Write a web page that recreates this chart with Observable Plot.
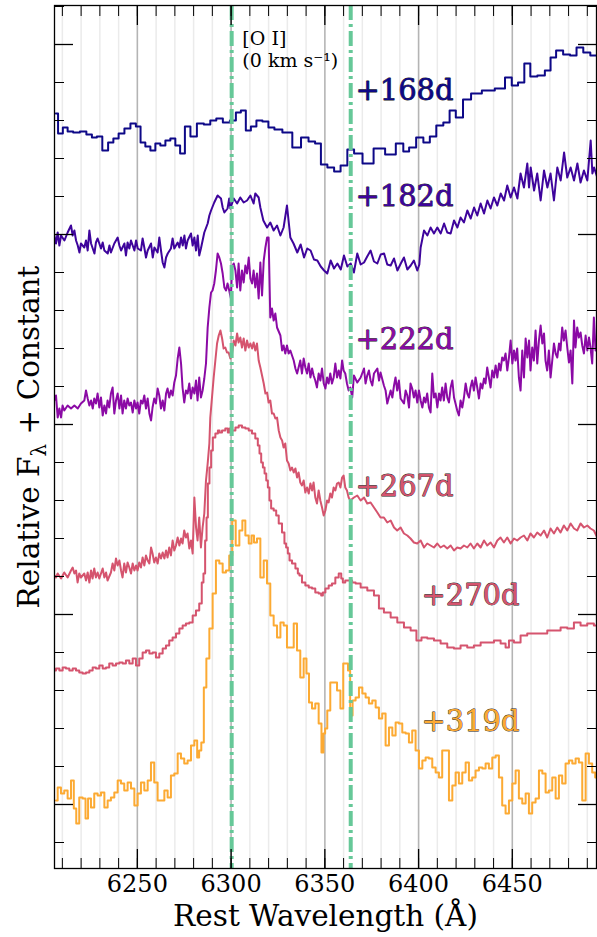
<!DOCTYPE html>
<html><head><meta charset="utf-8">
<script src="https://cdn.jsdelivr.net/npm/d3@7"></script>
<script src="https://cdn.jsdelivr.net/npm/@observablehq/plot@0.6"></script>
<style>
html,body{margin:0;padding:0;background:#fff;}
#chart svg{display:block;}
</style></head><body><div id="chart"></div>
<script>
// ---- tick values ----
const majorX = [6250, 6300, 6350, 6400, 6450];
const minorX = [6210,6220,6230,6240,6250,6260,6270,6280,6290,6300,6310,6320,6330,6340,6350,6360,6370,6380,6390,6400,6410,6420,6430,6440,6450,6460,6470,6480,6490];
const majorY = [0, 190, 380, 570, 760];
const minorY = [-38,0,38,76,114,152,190,228,266,304,342,380,418,456,494,532,570,608,646,684,722,760,798];
const oiLines = [6300.3, 6363.8];

// ---- spectra: [rest wavelength (A), relative flux + constant] ----
const spec168 = [[6206.5,691],[6208.9,671],[6211.6,677],[6214.0,673],[6217.5,672],[6221.2,673],[6224.4,670],[6227.1,667],[6229.7,668],[6232.9,654],[6235.9,662],[6238.5,666],[6241.5,671],[6244.7,676],[6247.9,681],[6250.5,678],[6252.9,662],[6255.6,658],[6258.3,654],[6260.9,661],[6263.6,659],[6266.3,664],[6268.9,666],[6271.6,659],[6274.0,651],[6276.7,678],[6279.9,668],[6283.6,681],[6287.3,680],[6290.5,684],[6293.7,686],[6297.5,682],[6301.2,684],[6303.9,692],[6306.5,694],[6309.2,674],[6311.9,678],[6315.1,684],[6318.3,683],[6321.5,677],[6324.7,675],[6330.0,672],[6335.3,657],[6339.3,667],[6343.3,663],[6346.3,661],[6349.5,640],[6353.2,637],[6356.7,633],[6360.1,639],[6363.9,655],[6367.3,651],[6372.9,641],[6379.1,656],[6385.2,650],[6390.5,661],[6393.2,653],[6396.7,657],[6400.7,667],[6404.4,662],[6407.6,668],[6411.3,679],[6415.1,682],[6418.0,694],[6421.7,687],[6425.7,705],[6430.3,711],[6437.2,714],[6444.1,716],[6448.1,727],[6451.3,719],[6454.8,722],[6458.0,741],[6461.2,728],[6465.5,729],[6469.2,734],[6471.6,747],[6475.1,754],[6479.1,750],[6482.5,749],[6486.0,757],[6489.7,752],[6493.5,749],[6495.5,749]];

const spec182 = [[6205.7,569],[6206.6,561],[6207.5,572],[6208.4,559],[6209.3,569],[6211.1,564],[6212.8,572],[6214.6,579],[6215.5,569],[6216.4,574],[6217.3,564],[6218.2,559],[6219.1,552],[6219.9,561],[6221.7,557],[6222.6,564],[6223.5,554],[6224.4,574],[6225.3,561],[6227.1,551],[6227.9,562],[6228.8,566],[6230.6,556],[6231.5,562],[6232.4,554],[6234.2,551],[6235.1,559],[6235.9,552],[6237.7,561],[6239.5,567],[6240.4,559],[6241.3,554],[6243.1,561],[6243.9,549],[6244.8,562],[6245.7,556],[6246.6,564],[6248.4,554],[6249.3,564],[6250.2,556],[6251.9,554],[6252.8,566],[6253.7,557],[6254.6,547],[6255.5,554],[6257.3,561],[6258.2,547],[6259.1,557],[6260.8,552],[6261.7,567],[6262.6,554],[6263.5,542],[6264.4,537],[6265.3,547],[6266.2,551],[6267.9,556],[6268.8,566],[6269.7,556],[6271.5,562],[6272.4,557],[6273.3,567],[6274.2,559],[6275.1,569],[6275.9,556],[6276.8,564],[6278.6,571],[6279.5,559],[6280.4,567],[6281.3,554],[6282.2,569],[6283.0,549],[6283.9,556],[6284.8,564],[6285.7,572],[6287.5,581],[6288.4,589],[6289.3,594],[6291.0,602],[6292.8,609],[6294.6,606],[6295.5,597],[6296.4,592],[6298.1,596],[6299.0,606],[6299.6,596],[6301.4,606],[6303.2,601],[6304.9,607],[6306.7,602],[6308.5,604],[6310.3,609],[6312.0,601],[6312.9,611],[6314.7,607],[6315.6,597],[6317.2,584],[6319.2,577],[6320.9,582],[6322.7,574],[6324.5,579],[6326.3,569],[6328.0,577],[6329.8,599],[6331.6,567],[6333.3,561],[6335.3,552],[6337.1,560],[6338.9,547],[6340.6,556],[6342.4,554],[6344.2,545],[6346.0,544],[6347.8,538],[6349.6,534],[6351.3,531],[6353.1,544],[6354.9,536],[6356.7,541],[6358.5,535],[6360.2,549],[6362.0,538],[6363.8,541],[6365.5,532],[6367.3,551],[6369.1,540],[6370.9,542],[6372.6,548],[6374.4,554],[6376.2,543],[6378.0,541],[6379.8,550],[6381.6,551],[6383.3,540],[6385.1,539],[6386.9,546],[6388.7,534],[6390.5,541],[6392.2,547],[6394.0,535],[6395.8,539],[6397.5,544],[6399.3,534],[6400.4,540],[6401.1,557],[6402.9,574],[6404.7,569],[6406.4,577],[6408.2,571],[6410.0,577],[6411.8,571],[6413.6,581],[6415.3,572],[6417.1,571],[6418.9,584],[6420.7,577],[6422.4,587],[6424.2,582],[6426.0,594],[6427.8,586],[6429.6,597],[6431.3,589],[6433.1,601],[6434.9,591],[6436.7,604],[6438.4,596],[6440.2,607],[6442.0,599],[6443.8,611],[6445.6,604],[6447.3,619],[6449.1,607],[6450.9,617],[6452.7,606],[6454.4,631],[6456.2,617],[6458.0,641],[6458.9,617],[6459.8,637],[6461.6,614],[6463.3,631],[6465.1,604],[6466.9,634],[6468.7,617],[6470.4,631],[6472.2,604],[6474.0,637],[6475.8,624],[6477.6,652],[6479.3,627],[6481.1,637],[6482.9,624],[6484.7,641],[6486.4,622],[6488.2,634],[6490.0,624],[6491.8,664],[6492.7,631],[6493.6,637],[6495.3,627]];

const spec222 = [[6205.7,404],[6206.6,409],[6207.5,387],[6208.4,396],[6209.3,387],[6210.1,399],[6211.0,394],[6212.8,399],[6214.6,396],[6216.4,399],[6218.2,396],[6219.9,401],[6221.7,404],[6222.6,414],[6223.5,406],[6224.4,399],[6225.3,404],[6226.2,396],[6227.0,406],[6227.9,401],[6228.8,411],[6229.7,397],[6230.6,407],[6231.5,389],[6232.4,399],[6233.3,391],[6234.1,404],[6235.0,397],[6235.9,411],[6236.8,417],[6237.7,391],[6238.6,404],[6239.5,411],[6240.4,396],[6241.3,409],[6242.1,391],[6243.0,404],[6243.9,396],[6244.8,406],[6245.7,399],[6246.6,402],[6247.5,392],[6248.4,404],[6249.3,396],[6250.1,402],[6251.0,391],[6251.9,404],[6252.8,401],[6253.7,409],[6254.6,396],[6255.5,406],[6256.4,391],[6257.3,384],[6258.1,397],[6259.0,406],[6259.9,401],[6260.8,416],[6261.7,409],[6262.6,396],[6263.5,404],[6264.4,394],[6265.3,411],[6266.1,416],[6267.0,407],[6267.9,414],[6268.8,409],[6269.7,422],[6270.6,429],[6271.5,446],[6272.4,457],[6273.3,441],[6274.1,417],[6275.0,402],[6275.9,414],[6276.8,411],[6277.7,421],[6278.6,406],[6279.5,417],[6280.4,411],[6281.3,424],[6282.1,404],[6283.0,427],[6283.9,407],[6284.8,414],[6285.7,426],[6286.6,441],[6287.5,477],[6288.4,497],[6289.3,512],[6290.1,514],[6291.0,521],[6291.9,534],[6292.8,551],[6293.7,547],[6294.6,541],[6295.5,531],[6296.4,517],[6297.3,514],[6298.1,521],[6299.0,514],[6299.9,506],[6300.5,537],[6301.4,541],[6302.3,534],[6303.2,517],[6304.0,541],[6304.9,514],[6305.8,534],[6306.7,522],[6307.6,539],[6308.5,531],[6309.4,547],[6310.3,526],[6311.2,521],[6312.0,534],[6312.9,517],[6313.8,531],[6314.7,506],[6315.6,542],[6316.5,509],[6317.4,544],[6318.3,557],[6319.2,567],[6320.0,567],[6320.9,487],[6321.8,496],[6322.7,484],[6323.6,491],[6324.5,477],[6326.3,469],[6327.2,454],[6328.0,459],[6328.9,451],[6329.8,459],[6330.7,451],[6331.6,454],[6333.4,444],[6334.3,436],[6335.2,431],[6336.0,437],[6336.9,444],[6337.8,431],[6338.7,446],[6339.6,437],[6340.5,431],[6341.4,441],[6342.3,427],[6343.2,436],[6344.0,429],[6344.9,424],[6345.8,417],[6346.7,431],[6347.6,424],[6348.5,436],[6349.4,421],[6350.3,416],[6351.2,427],[6352.0,421],[6352.9,431],[6353.8,421],[6354.7,427],[6355.6,441],[6356.5,427],[6357.4,434],[6358.3,426],[6359.2,444],[6360.0,434],[6360.9,431],[6361.8,421],[6362.7,414],[6363.6,417],[6364.6,407],[6365.5,429],[6367.3,422],[6369.1,427],[6370.9,436],[6371.7,421],[6372.6,429],[6373.5,434],[6374.4,424],[6375.3,419],[6376.2,431],[6378.0,436],[6378.9,424],[6379.7,432],[6381.5,419],[6382.4,414],[6383.3,401],[6385.1,414],[6386.0,407],[6386.9,419],[6387.7,427],[6388.6,414],[6389.5,424],[6390.4,406],[6392.2,401],[6393.1,414],[6394.0,409],[6394.9,397],[6395.7,421],[6396.6,416],[6397.5,407],[6398.4,414],[6399.3,402],[6400.2,414],[6401.1,404],[6402.0,397],[6402.9,407],[6403.7,402],[6404.6,411],[6405.5,397],[6406.4,392],[6407.3,431],[6408.2,407],[6409.1,411],[6410.0,397],[6410.9,411],[6411.7,404],[6412.6,417],[6413.5,404],[6414.4,421],[6415.3,407],[6416.2,402],[6417.1,417],[6418.0,424],[6418.9,407],[6419.7,401],[6420.6,394],[6421.5,389],[6422.4,404],[6423.3,397],[6424.2,407],[6425.1,421],[6426.0,411],[6426.9,407],[6427.7,417],[6428.6,424],[6429.5,414],[6430.4,427],[6431.3,417],[6432.2,406],[6433.1,421],[6434.0,416],[6434.9,426],[6435.7,421],[6436.6,437],[6437.5,427],[6438.4,417],[6439.3,434],[6440.2,427],[6441.1,439],[6442.0,427],[6442.9,441],[6443.7,434],[6444.6,447],[6445.5,444],[6446.4,451],[6447.3,434],[6448.2,447],[6449.1,464],[6450.0,441],[6450.9,454],[6451.7,444],[6452.6,456],[6453.5,427],[6454.4,414],[6455.3,454],[6456.2,427],[6457.1,466],[6458.0,447],[6458.9,464],[6459.7,434],[6460.6,457],[6461.5,444],[6462.4,474],[6463.3,441],[6464.2,464],[6465.1,479],[6466.0,461],[6466.9,471],[6467.7,444],[6468.6,434],[6469.5,454],[6470.4,427],[6471.3,444],[6472.2,461],[6473.1,451],[6474.0,447],[6474.9,461],[6475.7,454],[6476.6,477],[6477.5,464],[6478.4,474],[6479.3,457],[6480.2,442],[6481.1,454],[6482.0,421],[6482.9,484],[6483.7,457],[6484.6,477],[6485.5,467],[6486.4,472],[6487.3,459],[6488.2,451],[6489.1,469],[6490.0,454],[6490.9,467],[6491.7,457],[6492.6,441],[6493.5,487],[6494.4,454],[6495.3,461]];

const spec267 = [[6205.7,229],[6206.6,227],[6207.5,231],[6209.3,226],[6211.0,232],[6212.8,227],[6214.6,234],[6215.5,237],[6216.4,231],[6217.3,234],[6218.1,222],[6219.0,231],[6219.9,227],[6221.7,231],[6222.6,224],[6223.5,232],[6224.4,222],[6225.3,234],[6226.1,226],[6227.0,236],[6227.9,227],[6228.8,232],[6229.7,226],[6230.6,231],[6231.5,236],[6232.4,227],[6233.3,232],[6234.1,224],[6235.9,232],[6236.8,241],[6237.7,234],[6238.6,246],[6239.5,239],[6240.4,244],[6241.3,234],[6242.1,227],[6243.0,241],[6243.9,232],[6244.8,242],[6245.7,237],[6246.6,231],[6247.5,241],[6248.4,234],[6249.3,239],[6250.1,234],[6251.0,242],[6251.9,237],[6252.8,247],[6253.7,239],[6254.6,249],[6255.5,244],[6256.4,241],[6257.3,257],[6258.1,251],[6259.0,242],[6259.9,247],[6260.8,241],[6261.7,251],[6262.6,246],[6263.5,252],[6264.4,246],[6265.3,254],[6266.1,247],[6267.0,257],[6267.9,249],[6268.8,264],[6269.7,254],[6270.6,259],[6271.5,267],[6272.4,259],[6273.3,266],[6274.1,261],[6275.0,274],[6275.9,267],[6276.8,271],[6277.7,256],[6278.6,264],[6279.5,251],[6280.4,307],[6281.3,277],[6282.1,264],[6283.0,287],[6283.9,257],[6284.8,277],[6285.7,291],[6286.6,324],[6287.5,341],[6288.4,361],[6288.9,387],[6289.8,407],[6290.7,427],[6291.6,444],[6292.5,461],[6293.4,469],[6294.3,474],[6295.2,466],[6296.0,456],[6296.9,457],[6297.8,452],[6298.7,452],[6299.6,446],[6300.5,451],[6301.4,464],[6302.3,459],[6303.2,471],[6304.0,462],[6304.9,467],[6305.8,457],[6306.7,466],[6307.6,454],[6308.5,464],[6309.4,457],[6310.3,461],[6311.2,456],[6312.0,462],[6312.9,454],[6313.8,461],[6314.7,444],[6315.6,437],[6316.5,429],[6317.4,421],[6318.3,411],[6319.2,412],[6320.0,402],[6320.9,404],[6321.8,391],[6322.7,391],[6323.6,386],[6324.5,387],[6325.4,374],[6326.3,367],[6327.2,364],[6328.0,357],[6328.9,361],[6329.8,344],[6330.7,341],[6331.6,334],[6332.5,337],[6333.4,332],[6334.3,336],[6335.2,327],[6336.0,332],[6336.9,322],[6337.8,319],[6338.7,324],[6339.6,312],[6340.5,317],[6341.4,311],[6342.3,321],[6343.2,314],[6344.0,322],[6344.9,307],[6345.8,301],[6346.7,314],[6347.6,304],[6348.5,297],[6349.4,289],[6350.3,294],[6351.2,304],[6352.0,302],[6352.9,311],[6353.8,307],[6354.7,317],[6355.6,314],[6356.5,321],[6357.4,322],[6358.3,317],[6359.2,327],[6360.0,329],[6360.9,317],[6361.8,314],[6362.7,307],[6363.6,304],[6365.5,307],[6367.3,309],[6369.1,304],[6370.9,307],[6372.6,301],[6374.4,302],[6376.2,297],[6378.0,292],[6379.7,287],[6381.5,287],[6383.3,282],[6385.1,284],[6386.9,277],[6388.6,274],[6390.4,277],[6392.2,271],[6394.0,269],[6395.7,266],[6397.5,262],[6399.3,261],[6401.1,264],[6402.9,257],[6404.6,261],[6406.4,259],[6408.2,257],[6410.0,261],[6411.7,257],[6413.5,259],[6415.3,256],[6417.1,259],[6418.9,254],[6420.6,257],[6422.4,256],[6424.2,259],[6426.0,257],[6427.7,261],[6429.5,256],[6431.3,261],[6433.1,257],[6434.9,264],[6436.6,259],[6438.4,262],[6440.2,257],[6442.0,264],[6443.7,267],[6445.5,262],[6447.3,267],[6449.1,261],[6450.9,266],[6452.6,264],[6454.4,267],[6456.2,269],[6458.0,264],[6459.7,271],[6461.5,267],[6463.3,272],[6465.1,269],[6466.9,274],[6468.6,267],[6470.4,276],[6472.2,271],[6474.0,277],[6475.7,272],[6477.5,279],[6479.3,274],[6481.1,281],[6482.9,276],[6484.6,274],[6486.4,281],[6488.2,277],[6490.0,279],[6491.7,276],[6493.5,274],[6495.3,267]];

const spec270 = [[6205.7,134],[6207.5,136],[6209.3,134],[6211.0,137],[6212.8,136],[6214.6,134],[6216.4,136],[6218.1,134],[6219.9,132],[6221.7,131],[6223.5,132],[6225.3,134],[6227.0,137],[6228.8,136],[6230.6,139],[6232.4,136],[6234.1,137],[6235.9,141],[6237.7,139],[6239.5,141],[6241.3,142],[6243.0,141],[6244.8,144],[6246.6,141],[6248.4,146],[6250.1,139],[6251.9,146],[6253.7,152],[6255.5,154],[6257.3,151],[6259.0,152],[6260.8,147],[6262.6,151],[6264.4,156],[6266.1,159],[6267.9,164],[6269.7,167],[6271.5,171],[6273.3,176],[6275.0,179],[6276.8,181],[6278.6,182],[6280.4,189],[6282.1,194],[6283.9,201],[6284.8,222],[6285.7,231],[6286.6,264],[6287.2,287],[6288.0,321],[6288.9,337],[6289.8,354],[6290.7,367],[6292.5,371],[6293.4,374],[6294.3,372],[6296.0,374],[6297.8,376],[6298.7,372],[6299.6,376],[6301.4,374],[6303.2,377],[6304.9,379],[6306.7,377],[6308.5,376],[6310.3,374],[6312.0,371],[6313.8,366],[6314.7,359],[6315.6,351],[6316.5,342],[6317.4,337],[6318.3,331],[6319.2,324],[6320.0,317],[6320.9,304],[6321.8,296],[6323.6,294],[6324.5,289],[6326.3,281],[6328.0,272],[6328.9,261],[6329.8,257],[6330.7,251],[6331.6,244],[6333.4,241],[6335.2,236],[6336.0,231],[6336.9,229],[6338.7,222],[6340.5,219],[6342.3,217],[6344.0,216],[6345.8,212],[6347.6,211],[6348.5,209],[6349.4,212],[6351.2,216],[6352.9,219],[6354.7,221],[6356.5,227],[6358.3,231],[6359.2,226],[6360.0,222],[6361.8,224],[6363.6,224],[6365.5,222],[6367.3,221],[6370.9,217],[6374.4,214],[6378.0,209],[6379.7,196],[6383.3,192],[6386.9,187],[6390.4,182],[6394.0,177],[6397.5,174],[6400.2,164],[6402.9,167],[6406.4,166],[6410.0,164],[6413.5,161],[6417.1,157],[6420.6,156],[6424.2,159],[6427.7,157],[6431.3,159],[6434.9,162],[6438.4,162],[6442.0,164],[6445.5,161],[6447.3,157],[6449.1,164],[6452.6,162],[6456.2,169],[6459.7,171],[6463.3,171],[6466.9,171],[6470.4,174],[6474.0,174],[6477.5,177],[6481.1,176],[6484.6,182],[6488.2,179],[6491.7,181],[6495.3,179]];

const spec319 = [[6206.6,4],[6208.4,17],[6210.1,11],[6211.9,14],[6213.7,6],[6215.5,24],[6216.7,-4],[6218.1,-19],[6219.9,7],[6221.7,6],[6223.0,-14],[6224.4,6],[6226.1,-3],[6227.9,11],[6229.7,9],[6231.5,12],[6233.3,-3],[6235.0,4],[6236.8,7],[6238.6,12],[6240.4,24],[6242.1,21],[6243.9,14],[6245.7,22],[6247.5,16],[6249.3,-1],[6251.0,11],[6252.8,22],[6254.6,14],[6256.4,24],[6258.1,42],[6259.9,22],[6261.7,4],[6263.5,4],[6265.3,14],[6267.0,7],[6268.8,29],[6270.6,31],[6272.4,51],[6274.1,46],[6275.9,41],[6277.7,44],[6279.5,59],[6281.3,64],[6282.5,47],[6283.4,54],[6284.8,62],[6286.1,117],[6287.5,146],[6289.3,176],[6291.0,211],[6292.8,244],[6294.6,241],[6296.4,232],[6298.1,234],[6299.9,249],[6301.4,284],[6303.5,259],[6305.3,274],[6306.7,284],[6308.5,269],[6310.3,261],[6311.5,269],[6312.9,262],[6314.7,266],[6316.5,227],[6318.3,244],[6320.0,221],[6321.8,189],[6323.6,179],[6325.4,167],[6327.2,182],[6328.9,179],[6330.7,157],[6332.5,157],[6334.3,181],[6336.0,154],[6337.8,127],[6339.6,146],[6340.8,131],[6342.3,102],[6344.0,96],[6345.8,101],[6347.6,81],[6348.8,52],[6349.7,71],[6350.6,76],[6352.0,94],[6353.8,122],[6355.6,122],[6357.4,114],[6359.2,96],[6360.4,141],[6361.8,141],[6362.9,134],[6364.1,89],[6365.5,104],[6367.3,107],[6369.1,117],[6370.9,111],[6372.6,107],[6374.4,101],[6376.2,104],[6378.0,97],[6379.7,86],[6381.5,91],[6383.3,59],[6385.1,77],[6386.9,69],[6388.6,82],[6390.4,81],[6392.2,72],[6394.0,71],[6395.7,62],[6397.5,74],[6399.3,54],[6401.1,36],[6402.9,44],[6404.6,47],[6406.4,46],[6408.2,37],[6410.0,32],[6411.7,27],[6413.5,54],[6415.3,54],[6417.1,4],[6418.9,19],[6420.6,32],[6422.4,21],[6424.2,32],[6426.0,42],[6427.7,24],[6429.5,27],[6431.3,34],[6433.1,37],[6434.9,36],[6436.6,41],[6438.4,36],[6440.2,47],[6442.0,49],[6443.7,27],[6445.5,-1],[6447.3,-9],[6449.1,4],[6450.9,21],[6452.6,34],[6454.4,6],[6456.2,1],[6458.0,11],[6459.7,-9],[6461.5,2],[6463.3,6],[6465.1,34],[6466.9,31],[6468.6,12],[6470.4,14],[6472.2,27],[6474.0,6],[6475.7,29],[6477.5,21],[6479.3,41],[6481.1,44],[6482.9,41],[6484.6,46],[6486.4,42],[6488.2,4],[6490.0,51],[6491.7,41],[6493.5,32],[6494.9,27]];

// ---- epochs ----
const epochs = ["+168d", "+182d", "+222d", "+267d", "+270d", "+319d"];
const epochColors = ["#0d0887", "#3e049c", "#8b0aa5", "#d5546e", "#d5546e", "#fcaa33"];
const epochSteps = [true, false, false, false, true, true];
const epochData = [spec168, spec182, spec222, spec267, spec270, spec319];
const labelWave = [6366.3, 6366.3, 6366.3, 6366.3, 6401.5, 6401.5];
const labelFlux = [714, 608, 465, 318, 209, 83];

const labelRows = epochs.map((t, i) => ({t, w: labelWave[i], f: labelFlux[i], c: epochColors[i]}));

const chart = Plot.plot({
  width: 597, height: 937,
  marginLeft: 54, marginRight: 1, marginTop: 5, marginBottom: 69,
  style: {fontFamily: "'DejaVu Serif', serif", background: "#fff", color: "#000"},
  x: {domain: [6205.8, 6494.9]},
  y: {domain: [-64, 799]},
  marks: [
    Plot.ruleX(minorX, {stroke: "#ebebeb", strokeWidth: 1.5}),
    Plot.ruleX(majorX, {stroke: "#b4b4b4", strokeWidth: 1.5}),
    ...epochData.map((data, i) => Plot.line(data, {
      x: d => d[0], y: d => d[1], stroke: epochColors[i], strokeWidth: 2,
      curve: epochSteps[i] ? "step" : "linear", clip: true
    })),
    Plot.ruleX(oiLines, {stroke: "#66c898", strokeWidth: 4, strokeDasharray: "15,4,3,4"}),
    Plot.axisX(minorX, {anchor: "bottom", tickSize: -10, text: null, label: null}),
    Plot.axisX(minorX, {anchor: "top", tickSize: -10, text: null, label: null}),
    Plot.axisX(majorX, {anchor: "bottom", tickSize: -19, text: null, label: null, strokeWidth: 1.3}),
    Plot.axisX(majorX, {anchor: "top", tickSize: -19, text: null, label: null, strokeWidth: 1.3}),
    Plot.axisX(majorX, {anchor: "bottom", tickSize: 0, tickPadding: 6, fontSize: 24, fontFamily: "DejaVu Serif", fontVariant: "normal", label: null, tickFormat: d => String(d)}),
    Plot.axisY(minorY, {anchor: "left", tickSize: -10, text: null, label: null}),
    Plot.axisY(minorY, {anchor: "right", tickSize: -10, text: null, label: null}),
    Plot.axisY(majorY, {anchor: "left", tickSize: -19, text: null, label: null, strokeWidth: 1.3}),
    Plot.axisY(majorY, {anchor: "right", tickSize: -19, text: null, label: null, strokeWidth: 1.3}),
    Plot.frame({stroke: "#000", strokeWidth: 1.3}),
    Plot.text(labelRows, {x: "w", y: "f", text: "t", fill: "c", stroke: "#222", strokeWidth: 0.8, paintOrder: "stroke", fontSize: 29, fontFamily: "DejaVu Serif", textAnchor: "start"}),
    Plot.text(["[O I]\n(0 km s\u207B\u00B9)"], {x: 6306, y: 776, textAnchor: "start", lineAnchor: "top", fontSize: 19, fontFamily: "DejaVu Serif", lineHeight: 1.2, fill: "#000"}),
    Plot.text(["Rest Wavelength (\u00C5)"], {frameAnchor: "bottom", dy: 57, fontSize: 29.5, fontFamily: "DejaVu Serif", fill: "#000"}),
    Plot.text(["Relative F\u03BB + Constant"], {frameAnchor: "left", dx: -25, rotate: -90, fontSize: 29.5, fontFamily: "DejaVu Serif", fill: "#000"})
  ]
});
document.getElementById("chart").appendChild(chart);

// subscript lambda in y title, re-centred along the rotated baseline
chart.querySelectorAll("text").forEach(t => {
  if (t.textContent === "Relative F\u03BB + Constant") {
    t.textContent = "";
    const ns = "http://www.w3.org/2000/svg";
    const a = document.createElementNS(ns, "tspan"); a.textContent = "Relative F";
    const b = document.createElementNS(ns, "tspan"); b.textContent = "\u03BB"; b.setAttribute("font-size", "20"); b.setAttribute("dy", "7");
    const c = document.createElementNS(ns, "tspan"); c.textContent = " + Constant"; c.setAttribute("dy", "-7");
    t.append(a, b, c);
    t.setAttribute("text-anchor", "start");
    const L = t.getComputedTextLength();
    const x0 = +(t.getAttribute("x") || 0);
    t.setAttribute("x", x0 - L / 2);
  }
});
</script>
</body></html>
